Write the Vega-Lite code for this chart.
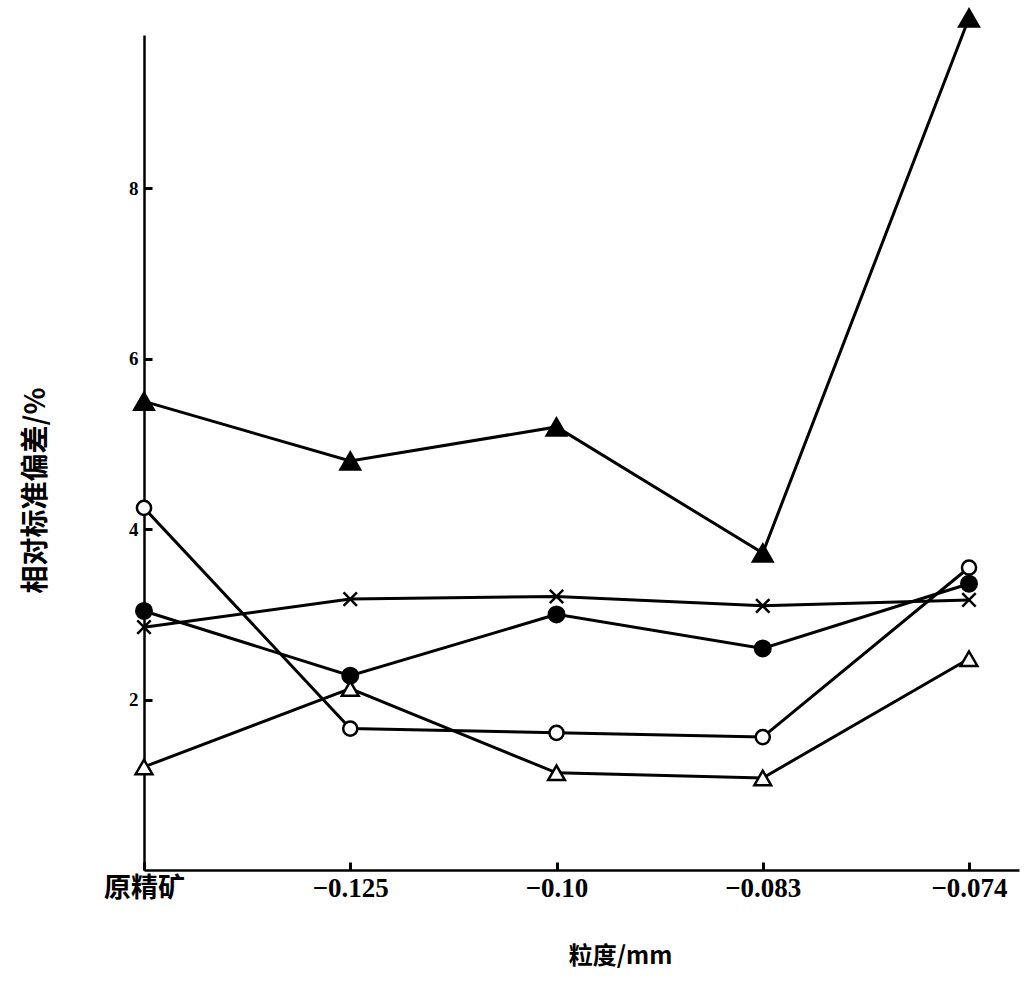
{
  "$schema": "https://vega.github.io/schema/vega-lite/v6.json",
  "autosize": {"type": "none"},
  "width": 875,
  "height": 835,
  "padding": {"left": 144, "top": 35, "right": 9, "bottom": 114},
  "background": "white",
  "config": {
    "view": {"stroke": null},
    "axis": {
      "domainColor": "black",
      "domainWidth": 2.5,
      "tickColor": "black",
      "tickWidth": 3,
      "grid": false,
      "labelColor": "black",
      "labelFont": "Liberation Serif, Noto Sans CJK SC",
      "labelFontWeight": "bold",
      "titleColor": "black",
      "titleFont": "Noto Sans CJK SC",
      "titleFontWeight": "bold"
    }
  },
  "data": {
    "values": [
      {"粒度": "原精矿", "series": "s1", "value": 5.5},
      {"粒度": "−0.125", "series": "s1", "value": 4.8},
      {"粒度": "−0.10", "series": "s1", "value": 5.2},
      {"粒度": "−0.083", "series": "s1", "value": 3.72},
      {"粒度": "−0.074", "series": "s1", "value": 10.0},
      {"粒度": "原精矿", "series": "s2", "value": 4.25},
      {"粒度": "−0.125", "series": "s2", "value": 1.66},
      {"粒度": "−0.10", "series": "s2", "value": 1.61},
      {"粒度": "−0.083", "series": "s2", "value": 1.56},
      {"粒度": "−0.074", "series": "s2", "value": 3.55},
      {"粒度": "原精矿", "series": "s3", "value": 2.85},
      {"粒度": "−0.125", "series": "s3", "value": 3.18},
      {"粒度": "−0.10", "series": "s3", "value": 3.21},
      {"粒度": "−0.083", "series": "s3", "value": 3.1},
      {"粒度": "−0.074", "series": "s3", "value": 3.17},
      {"粒度": "原精矿", "series": "s4", "value": 3.04},
      {"粒度": "−0.125", "series": "s4", "value": 2.28},
      {"粒度": "−0.10", "series": "s4", "value": 3.0},
      {"粒度": "−0.083", "series": "s4", "value": 2.6},
      {"粒度": "−0.074", "series": "s4", "value": 3.36},
      {"粒度": "原精矿", "series": "s5", "value": 1.21},
      {"粒度": "−0.125", "series": "s5", "value": 2.13},
      {"粒度": "−0.10", "series": "s5", "value": 1.14},
      {"粒度": "−0.083", "series": "s5", "value": 1.08},
      {"粒度": "−0.074", "series": "s5", "value": 2.48}
    ]
  },
  "resolve": {"axis": {"x": "independent", "y": "independent"}},
  "layer": [
    {
      "mark": {"type": "line", "color": "black", "strokeWidth": 3, "clip": false},
      "encoding": {
        "x": {
          "field": "粒度",
          "type": "ordinal",
          "sort": ["原精矿", "−0.125", "−0.10", "−0.083", "−0.074"],
          "scale": {"type": "point", "padding": 0.1212, "align": 0},
          "axis": {
            "orient": "bottom",
            "title": "粒度/mm",
            "titleFontSize": 24,
            "labelFontSize": 27,
            "labelAngle": 0,
            "ticks": false,
            "labelPadding": 5,
            "titleX": 476,
            "titleY": 86,
            "titleBaseline": "middle",
            "titleAlign": "center"
          }
        },
        "y": {
          "field": "value",
          "type": "quantitative",
          "scale": {"domain": [0, 9.8], "nice": false, "zero": true},
          "axis": {
            "orient": "left",
            "title": "相对标准偏差/%",
            "titleFontSize": 28,
            "labelFontSize": 19,
            "values": [2, 4, 6, 8],
            "ticks": false,
            "labelPadding": 6,
            "titleX": -108,
            "titleY": 455,
            "titleAngle": -90,
            "titleBaseline": "middle",
            "titleAlign": "center"
          }
        },
        "detail": {"field": "series"}
      }
    },
    {
      "mark": {"type": "point", "stroke": "black", "strokeWidth": 2.5, "opacity": 1, "clip": false},
      "encoding": {
        "x": {
          "field": "粒度",
          "type": "ordinal",
          "sort": ["原精矿", "−0.125", "−0.10", "−0.083", "−0.074"],
          "axis": {
            "orient": "bottom",
            "offset": -8,
            "title": null,
            "labels": false,
            "domain": false,
            "tickSize": 8
          }
        },
        "y": {
          "field": "value",
          "type": "quantitative",
          "axis": {
            "orient": "left",
            "offset": -8,
            "title": null,
            "labels": false,
            "domain": false,
            "values": [2, 4, 6, 8],
            "tickSize": 8
          }
        },
        "shape": {
          "field": "series",
          "type": "nominal",
          "scale": {"domain": ["s1", "s2", "s3", "s4", "s5"], "range": ["triangle-up", "circle", "M-1,-1L1,1M1,-1L-1,1", "circle", "triangle-up"]},
          "legend": null
        },
        "fill": {
          "field": "series",
          "type": "nominal",
          "scale": {"domain": ["s1", "s2", "s3", "s4", "s5"], "range": ["black", "white", "black", "black", "white"]},
          "legend": null
        },
        "size": {
          "field": "series",
          "type": "nominal",
          "scale": {"type": "ordinal", "domain": ["s1", "s2", "s3", "s4", "s5"], "range": [380, 200, 180, 240, 280]},
          "legend": null
        }
      }
    }
  ]
}
